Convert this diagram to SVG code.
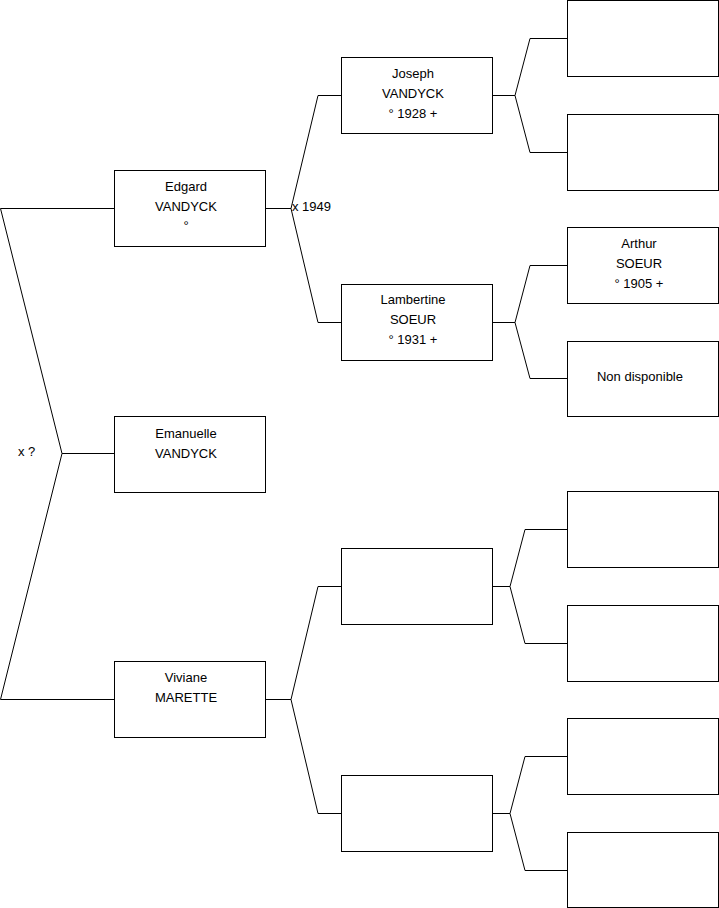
<svg xmlns="http://www.w3.org/2000/svg" width="719" height="908" viewBox="0 0 719 908">
<style>
.box{fill:#fff;stroke:#000;stroke-width:1}
.ln{fill:none;stroke:#000;stroke-width:1}
text{font-family:"Liberation Sans",Arial,sans-serif;font-size:13px;fill:#000}
.c{text-anchor:middle}
</style>
<rect width="719" height="908" fill="#fff"/>
<g id="connectors">
<polyline class="ln" points="114,208.5 0.5,208.5 62,453.5 0.5,699.5 114,699.5"/>
<polyline class="ln" points="62,453.5 114,453.5"/>
<polyline class="ln" points="265,208.5 291,208.5"/>
<polyline class="ln" points="341,95.5 318,95.5 291,208.5 318,322.5 341,322.5"/>
<polyline class="ln" points="265,699.5 291,699.5"/>
<polyline class="ln" points="341,586.5 318,586.5 291,699.5 318,813.5 341,813.5"/>
<polyline class="ln" points="492,95.5 515,95.5"/>
<polyline class="ln" points="567,38.5 530,38.5 515,95.5 530,152.5 567,152.5"/>
<polyline class="ln" points="492,322.5 515,322.5"/>
<polyline class="ln" points="567,265.5 530,265.5 515,322.5 530,378.5 567,378.5"/>
<polyline class="ln" points="492,586.5 510,586.5"/>
<polyline class="ln" points="567,529.5 525,529.5 510,586.5 525,643.5 567,643.5"/>
<polyline class="ln" points="492,813.5 510,813.5"/>
<polyline class="ln" points="567,756.5 525,756.5 510,813.5 525,870.5 567,870.5"/>
<text x="292" y="211">x 1949</text>
<text x="18" y="456">x ?</text>
</g>
<g id="edgard"><rect class="box" x="114.5" y="170.5" width="151" height="76"/>
<text class="c" x="186" y="191">Edgard</text><text class="c" x="186" y="211">VANDYCK</text><text class="c" x="186" y="230">°</text></g>
<g id="emanuelle"><rect class="box" x="114.5" y="416.5" width="151" height="76"/>
<text class="c" x="186" y="438">Emanuelle</text><text class="c" x="186" y="458">VANDYCK</text></g>
<g id="viviane"><rect class="box" x="114.5" y="661.5" width="151" height="76"/>
<text class="c" x="186" y="682">Viviane</text><text class="c" x="186" y="702">MARETTE</text></g>
<g id="joseph"><rect class="box" x="341.5" y="57.5" width="151" height="76"/>
<text class="c" x="413" y="78">Joseph</text><text class="c" x="413" y="98">VANDYCK</text><text class="c" x="413" y="118">° 1928 +</text></g>
<g id="lambertine"><rect class="box" x="341.5" y="284.5" width="151" height="76"/>
<text class="c" x="413" y="304">Lambertine</text><text class="c" x="413" y="324">SOEUR</text><text class="c" x="413" y="344">° 1931 +</text></g>
<g id="p2c"><rect class="box" x="341.5" y="548.5" width="151" height="76"/></g>
<g id="p2d"><rect class="box" x="341.5" y="775.5" width="151" height="76"/></g>
<g id="p3a"><rect class="box" x="567.5" y="0.5" width="151" height="76"/></g>
<g id="p3b"><rect class="box" x="567.5" y="114.5" width="151" height="76"/></g>
<g id="arthur"><rect class="box" x="567.5" y="227.5" width="151" height="76"/>
<text class="c" x="639" y="248">Arthur</text><text class="c" x="639" y="268">SOEUR</text><text class="c" x="639" y="288">° 1905 +</text></g>
<g id="nondispo"><rect class="box" x="567.5" y="341.5" width="151" height="75"/>
<text class="c" x="640" y="381">Non disponible</text></g>
<g id="p3e"><rect class="box" x="567.5" y="491.5" width="151" height="76"/></g>
<g id="p3f"><rect class="box" x="567.5" y="605.5" width="151" height="76"/></g>
<g id="p3g"><rect class="box" x="567.5" y="718.5" width="151" height="76"/></g>
<g id="p3h"><rect class="box" x="567.5" y="832.5" width="151" height="75"/></g>
</svg>
